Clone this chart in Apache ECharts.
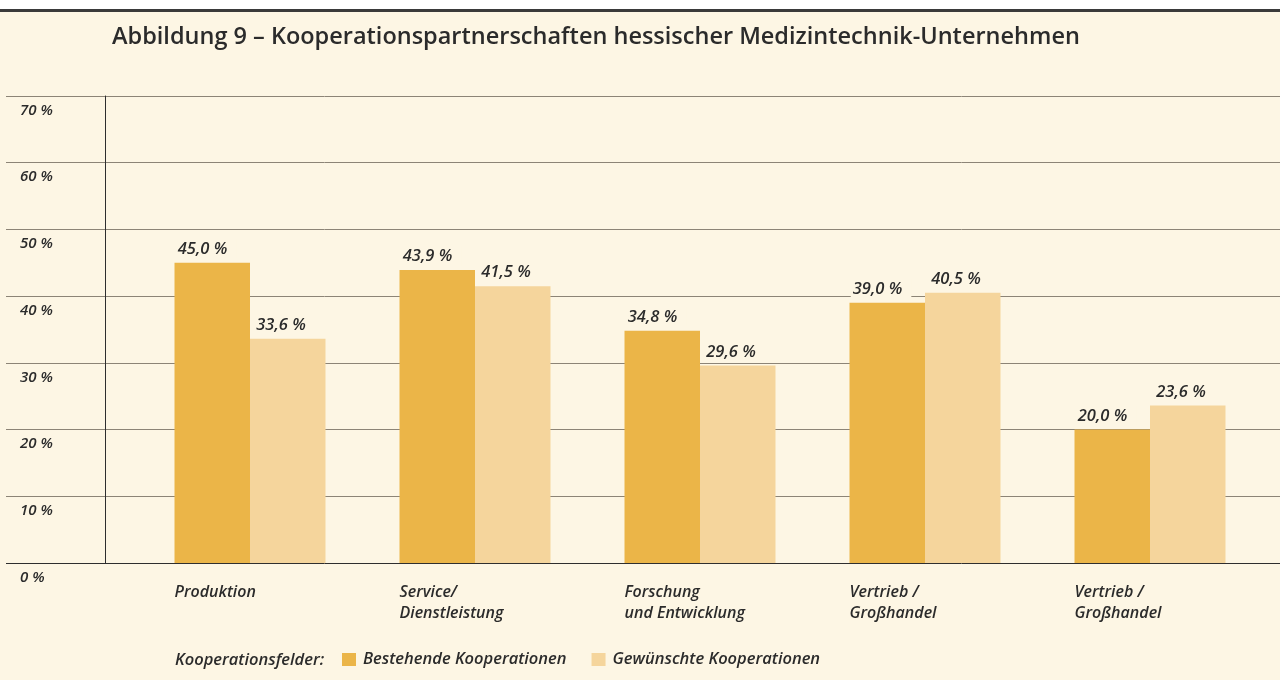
<!DOCTYPE html>
<html lang="de">
  <head>
    <meta charset="utf-8" />
    <title>Abbildung 9</title>
    <script src="https://cdn.jsdelivr.net/npm/echarts@6/dist/echarts.min.js"></script>
    <style>
      html, body { margin: 0; padding: 0; background: #fdf6e4; }
      #chart { width: 1280px; height: 680px; }
    </style>
  </head>
  <body>
    <div id="chart"></div>
    <script>
      // Kooperationsfelder
      var categories = [
        'Produktion',
        'Service/\nDienstleistung',
        'Forschung\nund Entwicklung',
        'Vertrieb /\nGroßhandel',
        'Vertrieb /\nGroßhandel'
      ]
      var bestehende = [45.0, 43.9, 34.8, 39.0, 20.0]
      var gewuenschte = [33.6, 41.5, 29.6, 40.5, 23.6]
      var seriesNames = ['Bestehende Kooperationen', 'Gewünschte Kooperationen']
      var yTicks = { min: 0, max: 70, interval: 10 }

      var font = '"Open Sans", "DejaVu Sans", sans-serif'
      var ink = '#2b2b2b'
      var cream = '#fdf6e4'

      function pct (v) {
        return v.toFixed(1).replace('.', ',') + ' %'
      }

      function valueLabel (dx) {
        return {
          show: true,
          position: 'top',
          distance: 4,
          align: 'left',
          offset: [dx, 0],
          fontFamily: font,
          fontStyle: 'italic',
          fontWeight: 600,
          fontSize: 16.5,
          color: ink,
          backgroundColor: cream,
          padding: [2, 9, 1, 2],
          formatter: function (p) { return pct(p.value) }
        }
      }

      var chart = echarts.init(document.getElementById('chart'))
      chart.setOption({
        backgroundColor: cream,
        animation: false,
        graphic: [
          { type: 'rect', shape: { x: 0, y: 0, width: 1280, height: 9 }, style: { fill: '#ffffff' }, silent: true },
          { type: 'rect', shape: { x: 0, y: 9, width: 1280, height: 3 }, style: { fill: '#3a3a3a' }, silent: true }
        ],
        title: [
          {
            text: 'Abbildung 9 – Kooperationspartnerschaften hessischer Medizintechnik-Unternehmen',
            left: 112,
            top: 25,
            padding: 0,
            textStyle: { fontFamily: font, fontSize: 23.5, fontWeight: 600, color: ink }
          },
          {
            text: 'Kooperationsfelder:',
            left: 175,
            top: 652,
            padding: 0,
            textStyle: { fontFamily: font, fontSize: 16.5, fontStyle: 'italic', fontWeight: 600, color: ink }
          }
        ],
        legend: {
          data: seriesNames,
          left: 342,
          top: 651,
          padding: 0,
          itemWidth: 14,
          itemHeight: 13,
          itemGap: 25,
          icon: 'rect',
          textStyle: { fontFamily: font, fontSize: 16.5, fontStyle: 'italic', fontWeight: 600, color: ink, padding: [0, 0, 0, 2] }
        },
        grid: [
          { left: 6, right: 0, top: 96, bottom: 117 },
          { left: 137.5, right: 17.5, top: 96, bottom: 117 }
        ],
        xAxis: [
          { type: 'value', gridIndex: 0, show: false, min: 0, max: 1 },
          {
            type: 'category',
            gridIndex: 1,
            data: categories,
            axisLine: { show: false },
            axisTick: { show: false },
            axisLabel: { show: false }
          }
        ],
        yAxis: [
          {
            type: 'value',
            gridIndex: 0,
            min: yTicks.min,
            max: yTicks.max,
            interval: yTicks.interval,
            axisLine: { show: false },
            axisTick: { show: false },
            splitLine: {
              show: true,
              lineStyle: {
                width: 1,
                color: ['#2e2e2e', '#8c8476', '#8c8476', '#8c8476', '#8c8476', '#8c8476', '#8c8476', '#8c8476']
              }
            },
            axisLabel: {
              inside: true,
              margin: 14,
              align: 'left',
              verticalAlign: 'top',
              padding: [7, 0, 0, 0],
              fontFamily: font,
              fontStyle: 'italic',
              fontWeight: 600,
              fontSize: 15,
              color: ink,
              formatter: '{value} %'
            }
          },
          {
            type: 'value',
            gridIndex: 1,
            min: yTicks.min,
            max: yTicks.max,
            interval: yTicks.interval,
            offset: 32.5,
            axisLine: { show: true, lineStyle: { color: '#2e2e2e', width: 1 } },
            axisTick: { show: false },
            axisLabel: { show: false },
            splitLine: { show: false }
          }
        ],
        series: [
          {
            name: seriesNames[0],
            type: 'bar',
            xAxisIndex: 1,
            yAxisIndex: 1,
            data: bestehende,
            barWidth: 75.5,
            barGap: '0%',
            itemStyle: { color: '#ebb548' },
            label: valueLabel(-36.5)
          },
          {
            name: seriesNames[1],
            type: 'bar',
            xAxisIndex: 1,
            yAxisIndex: 1,
            data: gewuenschte,
            barWidth: 75.5,
            barGap: '0%',
            itemStyle: { color: '#f5d59c' },
            label: valueLabel(-33.5)
          },
          {
            // category names, left-aligned under each bar pair
            name: 'Kategorien',
            type: 'scatter',
            xAxisIndex: 1,
            yAxisIndex: 1,
            symbolSize: 0,
            silent: true,
            itemStyle: { opacity: 1 },
            data: categories.map(function (c, i) { return [i, 0] }),
            label: {
              show: true,
              position: 'bottom',
              distance: 19,
              align: 'left',
              offset: [-75.5, 0],
              lineHeight: 21,
              fontFamily: font,
              fontStyle: 'italic',
              fontWeight: 600,
              fontSize: 16,
              color: ink,
              formatter: function (p) { return categories[p.dataIndex] }
            }
          }
        ]
      })
    </script>
  </body>
</html>
